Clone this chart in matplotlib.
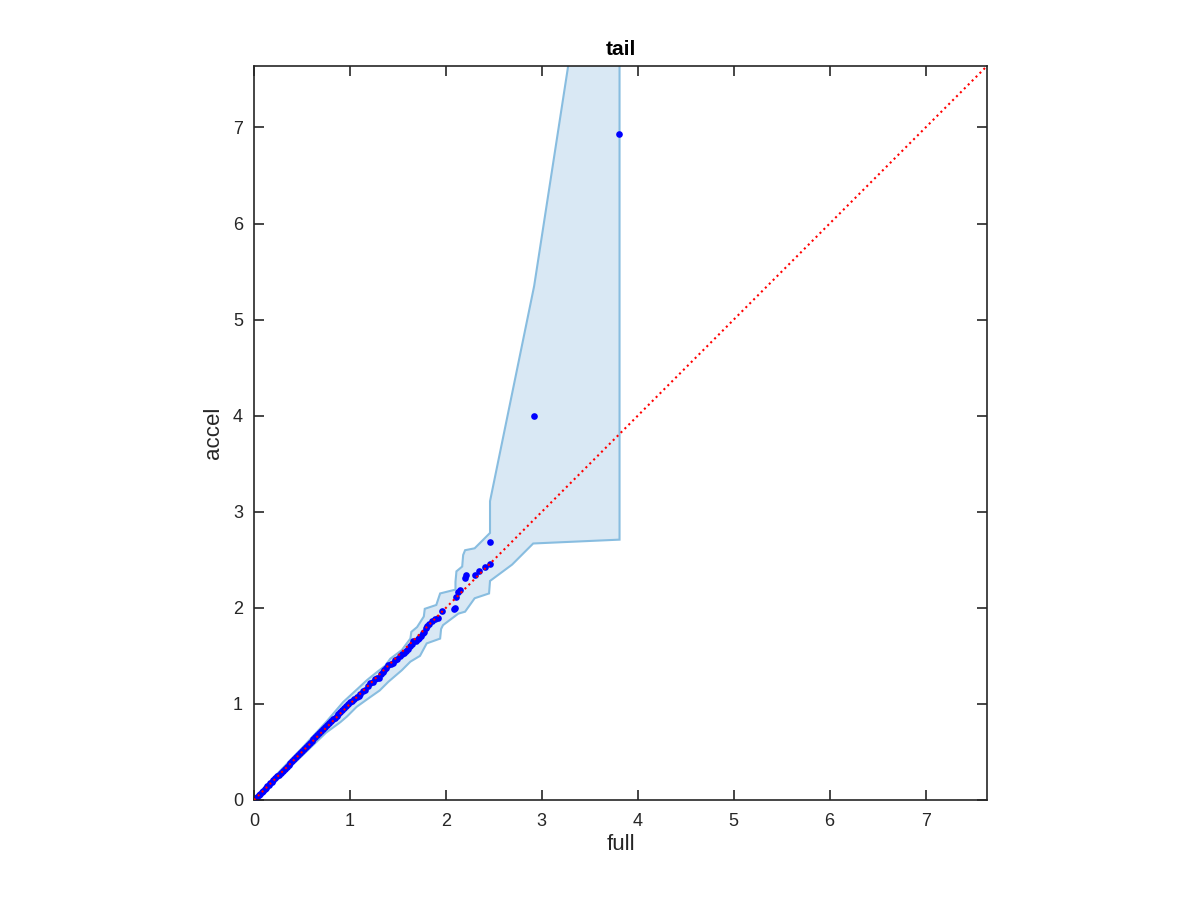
import matplotlib
matplotlib.use("Agg")
import matplotlib.pyplot as plt

plt.rcParams['font.family'] = ['Liberation Sans', 'DejaVu Sans']

# QQ points (full vs accel)
full = [0.00, 0.01, 0.02, 0.035, 0.05, 0.065, 0.08, 0.095, 0.11, 0.125, 0.14, 0.155,
        0.17, 0.185, 0.20, 0.22, 0.24, 0.26, 0.28, 0.30, 0.32, 0.34, 0.36, 0.38,
        0.40, 0.42, 0.44, 0.46, 0.48, 0.50, 0.52, 0.54, 0.56, 0.58, 0.60, 0.62,
        0.64, 0.66, 0.68, 0.70, 0.72, 0.74, 0.76, 0.78, 0.80, 0.82, 0.84, 0.86,
        0.88, 0.90, 0.92, 0.94, 0.96, 0.98, 1.00, 1.02, 1.04, 1.07, 1.09, 1.11,
        1.14, 1.16, 1.19, 1.21, 1.24, 1.26, 1.28, 1.30, 1.32, 1.34, 1.36, 1.38,
        1.40, 1.43, 1.45, 1.47, 1.49, 1.52, 1.54, 1.56, 1.58, 1.60, 1.63, 1.65,
        1.66, 1.69, 1.71, 1.72, 1.74, 1.76, 1.77, 1.79, 1.80, 1.82, 1.86, 1.89,
        1.92, 1.96, 2.08, 2.10, 2.11, 2.13, 2.15, 2.20, 2.21, 2.30, 2.35, 2.41,
        2.46, 2.46, 2.92, 3.80]
accel = [0.00, 0.01, 0.02, 0.036, 0.051, 0.066, 0.081, 0.097, 0.112, 0.127, 0.142, 0.158,
         0.173, 0.188, 0.204, 0.224, 0.245, 0.265, 0.285, 0.306, 0.326, 0.346, 0.367, 0.387,
         0.407, 0.428, 0.448, 0.469, 0.489, 0.510, 0.530, 0.551, 0.571, 0.592, 0.612, 0.632,
         0.653, 0.674, 0.694, 0.715, 0.735, 0.756, 0.777, 0.797, 0.818, 0.838, 0.858, 0.878,
         0.898, 0.918, 0.938, 0.957, 0.977, 0.998, 1.020, 1.030, 1.050, 1.070, 1.085, 1.100,
         1.130, 1.150, 1.190, 1.220, 1.230, 1.260, 1.270, 1.275, 1.310, 1.330, 1.350, 1.370,
         1.400, 1.420, 1.430, 1.460, 1.470, 1.500, 1.520, 1.530, 1.550, 1.570, 1.600, 1.620,
         1.650, 1.660, 1.680, 1.690, 1.710, 1.735, 1.750, 1.790, 1.810, 1.830, 1.860, 1.880,
         1.890, 1.970, 1.990, 2.000, 2.110, 2.160, 2.190, 2.310, 2.340, 2.340, 2.380, 2.430,
         2.460, 2.690, 4.000, 6.930]

# Confidence band edges
band_up_x = [0.00, 0.25, 0.50, 0.75, 0.93, 1.05, 1.18, 1.28, 1.37, 1.42, 1.54, 1.63,
             1.64, 1.70, 1.77, 1.78, 1.90, 1.94, 2.10, 2.10, 2.11, 2.17, 2.18, 2.20,
             2.30, 2.39, 2.46, 2.46, 2.92, 3.81]
band_up_y = [0.00, 0.28, 0.54, 0.81, 1.02, 1.13, 1.25, 1.33, 1.40, 1.47, 1.56, 1.68,
             1.75, 1.80, 1.91, 1.99, 2.03, 2.15, 2.19, 2.27, 2.38, 2.43, 2.55, 2.60,
             2.62, 2.71, 2.78, 3.11, 5.35, 11.10]
band_lo_x = [0.00, 0.25, 0.50, 0.75, 0.90, 0.97, 1.07, 1.21, 1.31, 1.40, 1.54, 1.63,
             1.73, 1.80, 1.94, 1.95, 1.97, 2.13, 2.20, 2.30, 2.45, 2.46, 2.69, 2.91, 3.81]
band_lo_y = [0.00, 0.23, 0.46, 0.70, 0.81, 0.87, 0.97, 1.07, 1.14, 1.23, 1.35, 1.44,
             1.50, 1.63, 1.68, 1.78, 1.82, 1.94, 1.96, 2.10, 2.15, 2.28, 2.45, 2.67, 2.71]

lim = 7.64
ticks = [0, 1, 2, 3, 4, 5, 6, 7]

fig = plt.figure(figsize=(12, 9), dpi=100)
ax = fig.add_axes([254/1200, 100/900, 733/1200, 734/900])

poly_x = band_up_x + band_lo_x[::-1]
poly_y = band_up_y + band_lo_y[::-1]
ax.fill(poly_x, poly_y, facecolor='#d9e8f4', edgecolor='#88bde0', linewidth=1.5, zorder=1)

ax.plot(full, accel, linestyle='none', marker='o', markersize=4.8,
        color='#0000ff', markeredgewidth=0, zorder=2)
ax.plot([0, lim], [0, lim], linestyle=':', color='#ff0000', linewidth=1.5, zorder=3)

ax.set_xlim(0, lim)
ax.set_ylim(0, lim)
ax.set_xticks(ticks)
ax.set_yticks(ticks)

axcol = '#262626'
for s in ax.spines.values():
    s.set_color(axcol)
    s.set_linewidth(1.2)
ax.tick_params(direction='in', length=7, width=1.2, colors=axcol, labelsize=13,
               top=True, right=True)
ax.tick_params(axis='x', pad=9)
ax.tick_params(axis='y', pad=8)

ax.set_title('tail', fontsize=15, fontweight='bold', pad=8)
ax.set_xlabel('full', fontsize=16, color=axcol, labelpad=3)
ax.set_ylabel('accel', fontsize=16, color=axcol, labelpad=6)

fig.savefig('out.png', dpi=100)
